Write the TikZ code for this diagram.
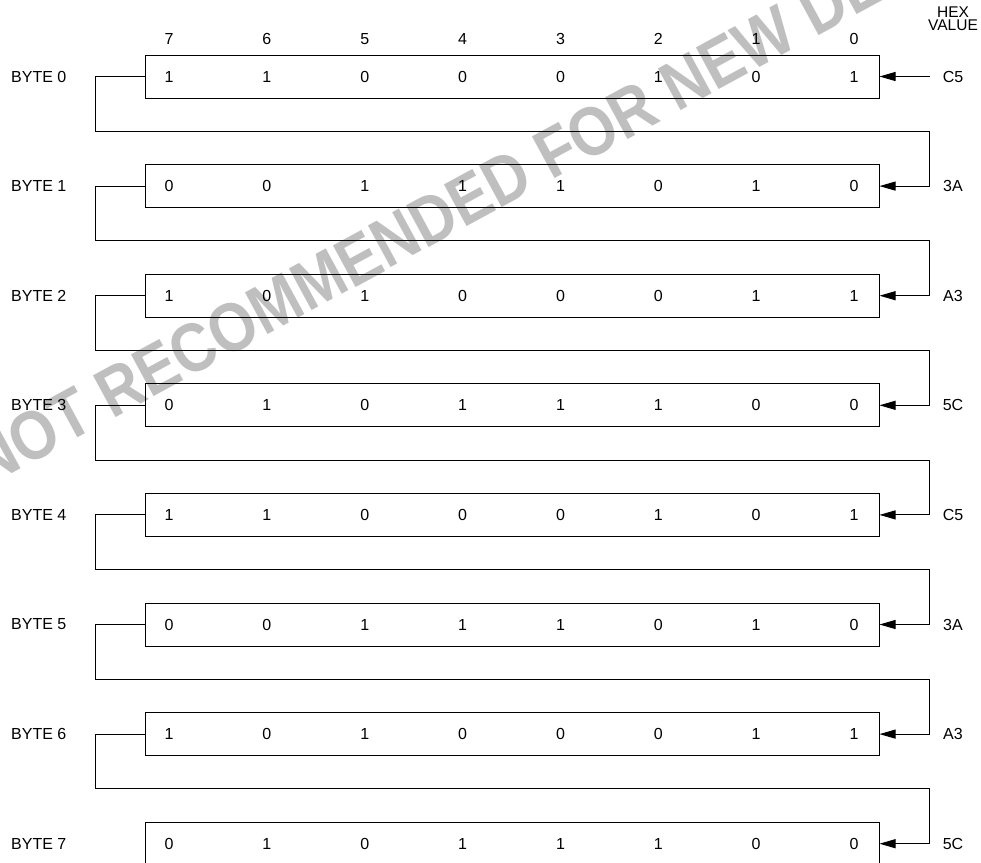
\documentclass[tikz,border=0pt]{standalone}
\usepackage{fontspec}
\setmainfont{Liberation Sans}
\usetikzlibrary{positioning, calc, arrows.meta}

\tikzset{
  bytebox/.style={draw, line width=1pt, minimum width=734pt, minimum height=43pt, inner sep=0pt},
  bitnum/.style={font=\fontsize{16}{17}\selectfont, inner sep=0pt},
  bytelabel/.style={font=\fontsize{16}{17}\selectfont, inner sep=0pt, anchor=west},
  feed/.style={line width=1pt, -{Triangle[length=16pt,width=9pt]}},
  watermark/.style={font=\fontsize{69}{69}\bfseries\selectfont, text=black!25, inner sep=0pt, anchor=base west, rotate=28.5, xscale=0.87}
}

\begin{document}
\begin{tikzpicture}[x=1pt, y=-1pt]
        \useasboundingbox (0,0) rectangle (981,862);
        \clip (0,0) rectangle (981,862);

        %scritta di sfondo
        \node[watermark] (wm) at (-14,488) {NOT RECOMMENDED FOR NEW DESIGNS};

        %numeri dei bit
        \foreach \n [count=\k from 0] in {7,6,5,4,3,2,1,0}
            \node[bitnum] (pos\n) at ({169+97.86*\k},39) {\n};
        \node[bitnum, align=center, font=\fontsize{15.5}{13}\selectfont] (hexhead) at (953,19) {HEX\\VALUE};

        %byte, bit e valori esadecimali
        \foreach \i/\hex/\bits in {0/C5/{1,1,0,0,0,1,0,1}, 1/3A/{0,0,1,1,1,0,1,0},
                                   2/A3/{1,0,1,0,0,0,1,1}, 3/5C/{0,1,0,1,1,1,0,0},
                                   4/C5/{1,1,0,0,0,1,0,1}, 5/3A/{0,0,1,1,1,0,1,0},
                                   6/A3/{1,0,1,0,0,0,1,1}, 7/5C/{0,1,0,1,1,1,0,0}} {
            \node[bytebox] (byte\i) at (512,{76.5+109.6*\i}) {};
            \node[bytelabel] (name\i) at (11,{76.5+109.6*\i}) {BYTE \i};
            \node[bitnum] (hex\i) at (953,{76.5+109.6*\i}) {\hex};
            \foreach \b [count=\k from 0] in \bits
                \node[bitnum] (bit\i\k) at ({169+97.86*\k},{76.5+109.6*\i}) {\b};
        }

        %ingresso del primo byte
        \coordinate (in0) at ([xshift=50pt]byte0.east);
        \draw[feed] (in0) -- (byte0.east);

        %collegamenti tra i byte
        \foreach \i in {0,...,6} {
            \pgfmathtruncatemacro\j{\i+1}
            \draw[feed] (byte\i.west) -- ++(-49,0) -- ++(0,54.8) -| ([xshift=50pt]byte\j.east) -- (byte\j.east);
        }
\end{tikzpicture}
\end{document}
